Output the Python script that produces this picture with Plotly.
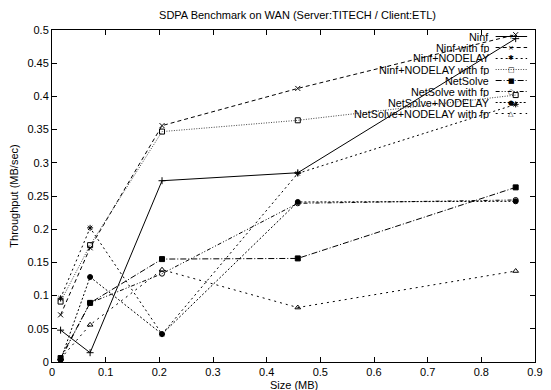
import plotly.graph_objects as go

SIZES = [0.016, 0.071, 0.205, 0.458, 0.864]

NINF = [0.048, 0.014, 0.273, 0.285, 0.487]
NINF_FP = [0.071, 0.172, 0.356, 0.412, 0.493]
NINF_ND = [0.096, 0.202, 0.042, 0.284, 0.388]
NINF_ND_FP = [0.091, 0.176, 0.347, 0.364, 0.402]
NETSOLVE = [0.006, 0.089, 0.155, 0.156, 0.263]
NETSOLVE_FP = [0.004, 0.089, 0.133, 0.239, 0.244]
NETSOLVE_ND = [0.003, 0.128, 0.042, 0.241, 0.242]
NETSOLVE_ND_FP = [0.005, 0.056, 0.139, 0.082, 0.137]

NAMES = ["Ninf", "Ninf with fp", "Ninf+NODELAY", "Ninf+NODELAY with fp",
         "NetSolve", "NetSolve with fp", "NetSolve+NODELAY", "NetSolve+NODELAY with fp"]
SERIES = [NINF, NINF_FP, NINF_ND, NINF_ND_FP, NETSOLVE, NETSOLVE_FP, NETSOLVE_ND, NETSOLVE_ND_FP]

X_TICKS = [0, 0.1, 0.2, 0.3, 0.4, 0.5, 0.6, 0.7, 0.8, 0.9]
Y_TICKS = [0, 0.05, 0.1, 0.15, 0.2, 0.25, 0.3, 0.35, 0.4, 0.45, 0.5]

# styling
DASHES = ["solid", "4px,3px", "2px,3px", "1px,1.5px", "6px,2px,1px,2px",
          "4px,2px,1px,2px,1px,2px", "2px,2px", "2px,4px"]
SYMBOLS = ["cross-thin-open", "x-thin-open", "asterisk-open", "square-open",
           "square", "circle-open", "circle", "triangle-up-open"]
GLYPHS = ["+", "×", "✱", "□", "■", "○", "●", "△"]
LINE_COLORS = ["black", "black", "black", "#444", "black", "black", "black", "black"]

FONT = "Liberation Sans, Arial, sans-serif"

fig = go.Figure()
for name, ys, dash, sym, lc in zip(NAMES, SERIES, DASHES, SYMBOLS, LINE_COLORS):
    fig.add_trace(go.Scatter(
        x=SIZES, y=ys, name=name, mode="lines+markers",
        line=dict(color=lc, width=1, dash=dash),
        marker=dict(symbol=sym, size=5, color="black",
                    line=dict(color="black", width=1)),
        showlegend=False,
    ))

# gnuplot-style key: right-aligned text, sample line to the right
L, R, T, B = 52, 8, 30, 28
W, H = 551, 390
pw, ph = W - L - R, H - T - B
def px_x(p):
    return (p - L) / pw
def px_y(p):
    return 1 - (p - T) / ph

text_right = px_x(497)
line_l, line_r, mark_x = px_x(503), px_x(535), px_x(519)
row0, step = 36.5, 11.0
shapes = []
annotations = []
for i, (name, dash, glyph, lc) in enumerate(zip(NAMES, DASHES, GLYPHS, LINE_COLORS)):
    yy = px_y(row0 + i * step)
    annotations.append(dict(xref="paper", yref="paper", x=text_right, y=yy,
                            text=name, showarrow=False, xanchor="right", yanchor="middle",
                            height=10, valign="middle", borderpad=0,
                            font=dict(family=FONT, size=10.8, color="black")))
    shapes.append(dict(type="line", xref="paper", yref="paper", x0=line_l, x1=line_r,
                       y0=yy, y1=yy, line=dict(color=lc, width=1, dash=dash)))
    annotations.append(dict(xref="paper", yref="paper", x=mark_x, y=yy,
                            text=glyph, showarrow=False, xanchor="center", yanchor="middle",
                            height=8, valign="middle", borderpad=0,
                            font=dict(family="DejaVu Sans", size=7, color="black")))

# x-axis title placed as gnuplot does, just under the tick labels
annotations.append(dict(xref="paper", yref="paper", x=0.5, y=px_y(384),
                        text="Size (MB)", showarrow=False, xanchor="center", yanchor="middle",
                        height=11, valign="middle", borderpad=0,
                        font=dict(family=FONT, size=11, color="black")))

axis_common = dict(showgrid=False, zeroline=False, showline=True, linecolor="black",
                   linewidth=1, mirror="allticks", ticks="inside", ticklen=5,
                   tickcolor="black", tickfont=dict(family=FONT, size=11, color="black"))

fig.update_layout(
    width=W, height=H,
    margin=dict(l=L, r=R, t=T, b=B),
    paper_bgcolor="white", plot_bgcolor="white",
    title=dict(text="SDPA Benchmark on WAN (Server:TITECH / Client:ETL)",
               x=0.5 * (L + W - R) / W, xanchor="center", y=1 - 15 / H, yanchor="middle",
               font=dict(family=FONT, size=11, color="black")),
    xaxis=dict(range=[0, 0.9], tickvals=X_TICKS, ticktext=[f"{v:g}" for v in X_TICKS],
               **axis_common),
    yaxis=dict(range=[0, 0.5], tickvals=Y_TICKS, ticktext=[f"{v:g}" for v in Y_TICKS],
               title=dict(text="Throughput (MB/sec)", standoff=6,
                          font=dict(family=FONT, size=11, color="black")),
               **axis_common),
    shapes=shapes,
    annotations=annotations,
    showlegend=False,
)

fig.write_html("out.html", config={"displayModeBar": False},
               post_script="document.body.style.margin='0px';document.body.style.overflow='hidden';")
